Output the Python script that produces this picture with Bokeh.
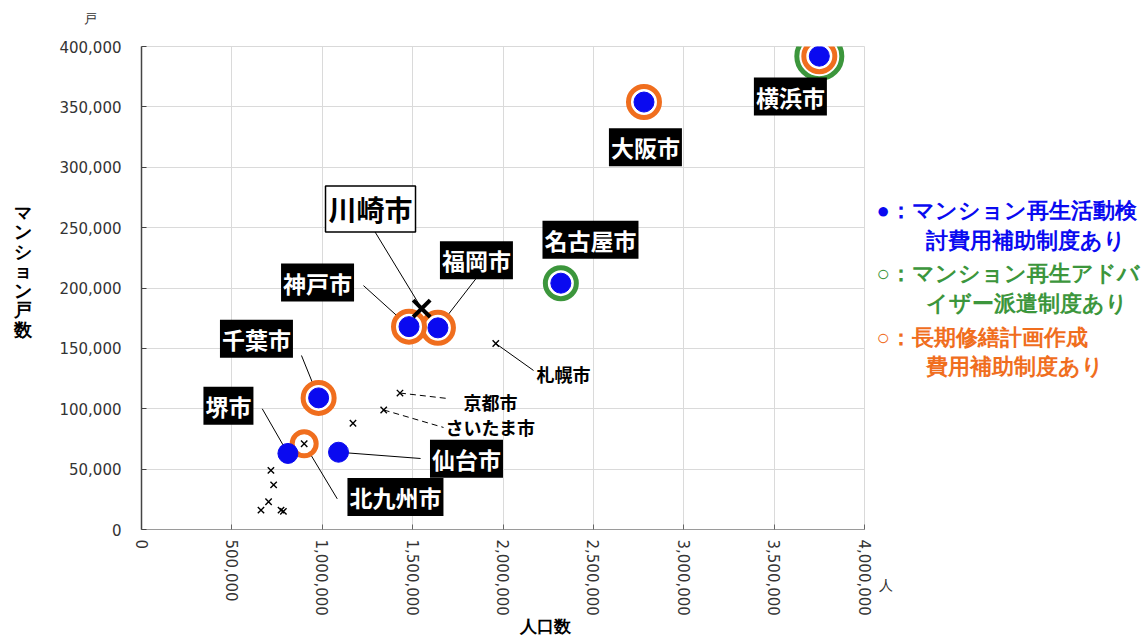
import math
from bokeh.plotting import figure
from bokeh.layouts import row, column
from bokeh.models import Label, FixedTicker, NumeralTickFormatter, Range1d
from bokeh.embed import file_html
from bokeh.resources import INLINE

# --- data: designated cities, population vs. number of condominium units ---
cities = ["横浜市", "大阪市", "名古屋市", "福岡市", "神戸市", "川崎市", "千葉市",
          "堺市", "仙台市", "北九州市", "札幌市", "京都市", "さいたま市"]
population = [3750000, 2780000, 2320000, 1640000, 1480000, 1550000, 980000,
              810000, 1090000, 900000, 1960000, 1430000, 1340000]
units = [392000, 354000, 204000, 167000, 168000, 183000, 109000,
         63000, 64000, 71000, 154000, 113000, 99000]
# programme flags (1 = available)
study_subsidy = [1, 1, 1, 1, 1, 0, 1, 1, 1, 0, 0, 0, 0]
advisor_dispatch = [1, 0, 1, 0, 0, 0, 0, 0, 0, 0, 0, 0, 0]
plan_subsidy = [1, 1, 0, 1, 1, 0, 1, 0, 0, 1, 0, 0, 0]

# unlabelled cities
other_population = [1170000, 716000, 731000, 703000, 661000, 772000, 785000]
other_units = [88000, 49000, 37000, 23000, 16000, 16000, 15000]

highlight = "川崎市"

# label placement (data coordinates) and leader-line end points
label_x = [3590000, 2788000, 2484000, 1853000, 974000, 1267000, 636000,
           481000, 1798000, 1405000, 2335000, 1931000, 1931000]
label_y = [358500, 316500, 240000, 223000, 204500, 265500, 158000,
           102500, 58500, 27000, 128400, 106000, 85300]
leader_x = [None, None, None, 1857000, 1228000, 1276000, 885000,
            668000, 1544000, 1083000, 2169000, 1693000, 1671000]
leader_y = [None, None, None, 209000, 202000, 250400, 144100,
            100000, 58800, 25400, 131700, 108500, 84500]
plain_labels = ["札幌市", "京都市", "さいたま市"]
dashed_leaders = ["京都市", "さいたま市"]

x_ticks = [0, 500000, 1000000, 1500000, 2000000, 2500000, 3000000, 3500000, 4000000]
y_ticks = [0, 50000, 100000, 150000, 200000, 250000, 300000, 350000, 400000]

legend_lines = ["●：マンション再生活動検", "討費用補助制度あり",
                "○：マンション再生アドバ", "イザー派遣制度あり",
                "○：長期修繕計画作成", "費用補助制度あり"]
y_title = "マンション戸数"
x_title = "人口数"
y_unit = "戸"
x_unit = "人"

BLUE = "#0a0af0"
ORANGE = "#f06e1e"
GREEN = "#3c963c"
JP = "Noto Sans CJK JP"

W, H = 1141, 635
TOP_H = 30          # strip above the chart row
BOTTOM_Y = 618      # strip below the chart row starts here
LEFT_W = 40
MAIN_END = 872
FRAME_L, FRAME_R, FRAME_T, FRAME_B = 141, 864, 46, 529


def side_panel(x0, x1, y0, y1):
    """Blank figure whose frame fills it, addressed in canvas pixels."""
    f = figure(width=x1 - x0, height=y1 - y0, output_backend="svg",
               toolbar_location=None, x_range=Range1d(x0, x1),
               y_range=Range1d(y1, y0), min_border=0,
               x_axis_type=None, y_axis_type=None)
    if "frame_align" in f.properties():
        f.frame_align = False
    f.grid.visible = False
    f.outline_line_color = None
    f.background_fill_color = "white"
    f.border_fill_color = "white"
    return f


p = figure(width=MAIN_END - LEFT_W, height=BOTTOM_Y - TOP_H, output_backend="svg",
           toolbar_location=None,
           x_range=Range1d(0, 4000000), y_range=Range1d(0, 400000),
           min_border_left=FRAME_L - LEFT_W, min_border_right=MAIN_END - FRAME_R,
           min_border_top=FRAME_T - TOP_H, min_border_bottom=BOTTOM_Y - FRAME_B)
p.background_fill_color = "white"
p.border_fill_color = "white"
p.outline_line_color = "#d9d9d9"

p.xaxis.ticker = FixedTicker(ticks=x_ticks)
p.yaxis.ticker = FixedTicker(ticks=y_ticks)
p.xgrid.ticker = FixedTicker(ticks=x_ticks)
p.ygrid.ticker = FixedTicker(ticks=y_ticks)
p.xgrid.grid_line_color = "#dadada"
p.ygrid.grid_line_color = "#dadada"

for ax in (p.xaxis[0], p.yaxis[0]):
    ax.formatter = NumeralTickFormatter(format="0,0")
    ax.minor_tick_line_color = None
    ax.major_label_text_font = "DejaVu Sans"
    ax.major_label_text_font_size = "15px"
    ax.major_label_text_color = "#333333"
    ax.major_tick_out = 0
    ax.major_tick_in = 5

p.yaxis.axis_line_color = "#444444"
p.yaxis.axis_line_width = 1.5
p.yaxis.major_tick_line_color = "#444444"
p.yaxis.major_label_standoff = 20
p.xaxis.axis_line_color = "#9a9a9a"
p.xaxis.major_tick_line_color = "#666666"
p.xaxis.major_label_orientation = -math.pi / 2
p.xaxis.major_label_standoff = 10

# leader lines from each point to its label
for name, px, py, lx, ly in zip(cities, population, units, leader_x, leader_y):
    if lx is None:
        continue
    dash = "6 4" if name in dashed_leaders else "solid"
    p.line([px, lx], [py, ly], line_color="black", line_width=1, line_dash=dash)

# green rings (advisor dispatch); larger when an orange ring sits inside
gx = [x for x, f in zip(population, advisor_dispatch) if f]
gy = [y for y, f in zip(units, advisor_dispatch) if f]
gs = [45 if o else 31 for f, o in zip(advisor_dispatch, plan_subsidy) if f]
p.scatter(gx, gy, size=gs, marker="circle", fill_color="white",
          line_color=GREEN, line_width=5)

# orange rings (long-term repair plan subsidy)
ox = [x for x, f in zip(population, plan_subsidy) if f]
oy = [y for y, f in zip(units, plan_subsidy) if f]
os_ = [31 if s else 24 for f, s in zip(plan_subsidy, study_subsidy) if f]
p.scatter(ox, oy, size=os_, marker="circle", fill_color="white",
          line_color=ORANGE, line_width=5)

# blue dots (renewal study subsidy)
bx = [x for x, f in zip(population, study_subsidy) if f]
by = [y for y, f in zip(units, study_subsidy) if f]
p.scatter(bx, by, size=20, marker="circle", fill_color=BLUE, line_color=BLUE)

# crosses for cities without the study subsidy
cx = [x for n, x, f in zip(cities, population, study_subsidy) if not f and n != highlight]
cy = [y for n, y, f in zip(cities, units, study_subsidy) if not f and n != highlight]
p.scatter(cx + other_population, cy + other_units, size=9, marker="x",
          line_color="black", line_width=1.4)

# highlighted city
hi = cities.index(highlight)
p.scatter([population[hi]], [units[hi]], size=24, marker="x",
          line_color="black", line_width=4)

# city labels
for name, lx, ly in zip(cities, label_x, label_y):
    if name == highlight:
        p.add_layout(Label(x=lx, y=ly, text=name, text_font=JP,
                           text_font_style="bold", text_font_size="28px",
                           text_color="black", text_align="center",
                           text_baseline="middle", background_fill_color="white",
                           border_line_color="black", border_line_width=1.5,
                           padding=3))
    elif name in plain_labels:
        p.add_layout(Label(x=lx, y=ly, text=name, text_font=JP,
                           text_font_style="bold", text_font_size="18px",
                           text_color="black", text_align="center",
                           text_baseline="middle"))
    else:
        p.add_layout(Label(x=lx, y=ly, text=name, text_font=JP,
                           text_font_style="bold", text_font_size="23px",
                           text_color="white", text_align="center",
                           text_baseline="middle", background_fill_color="black",
                           padding=2))

# strip above: unit of the vertical axis
top = side_panel(0, W, 0, TOP_H)
top.text(x=[90], y=[18], text=[y_unit], text_color="#333333", text_font=JP,
         text_font_size="13px", text_align="center", text_baseline="middle")

# left strip: vertical axis title, stacked one character per row
left = side_panel(0, LEFT_W, TOP_H, BOTTOM_Y)
title_py = [212 + 19.5 * i for i in range(len(y_title))]
left.text(x=[22] * len(y_title), y=title_py, text=list(y_title), text_color="black",
          text_font=JP, text_font_style="bold", text_font_size="18px",
          text_align="center", text_baseline="middle")

# right strip: legend and unit of the horizontal axis
lg = side_panel(MAIN_END, W, TOP_H, BOTTOM_Y)
legend_colors = [BLUE, BLUE, GREEN, GREEN, ORANGE, ORANGE]
legend_px = [876, 925, 876, 925, 876, 925]
legend_py = [210, 240, 273, 303, 337, 366]
lg.text(x=legend_px, y=legend_py, text=legend_lines, text_color=legend_colors,
        text_font=JP, text_font_style="bold", text_font_size="22px",
        text_align="left", text_baseline="middle")
lg.text(x=[885], y=[585], text=[x_unit], text_color="#333333", text_font=JP,
        text_font_size="14px", text_align="center", text_baseline="middle")

# strip below: horizontal axis title
bottom = side_panel(0, W, BOTTOM_Y, H)
bottom.text(x=[545], y=[626], text=[x_title], text_color="black", text_font=JP,
            text_font_style="bold", text_font_size="17px", text_align="center",
            text_baseline="middle")

layout = column(top, row(left, p, lg, spacing=0), bottom, spacing=0)
open("out.html", "w").write(file_html(layout, INLINE))
